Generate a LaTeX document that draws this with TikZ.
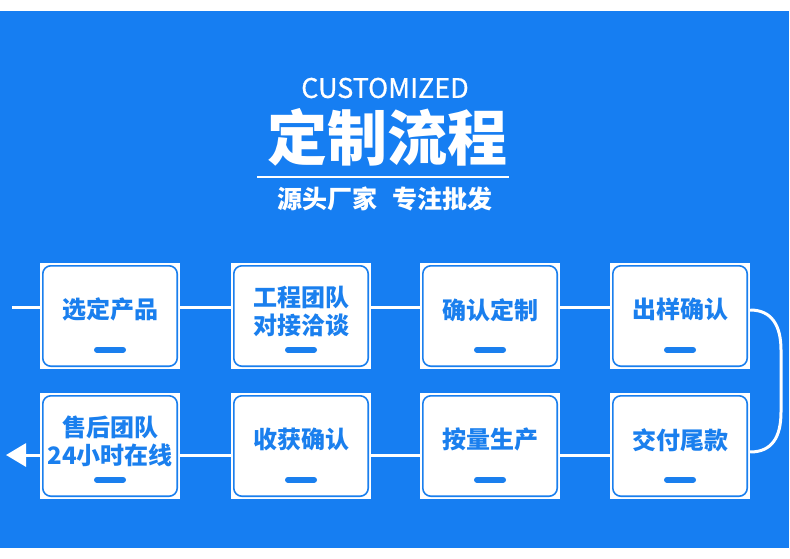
\documentclass[tikz,border=0pt]{standalone}
\usepackage{fontspec}
\newfontfamily\cjk{Noto Sans CJK SC}
\newfontfamily\cjkmed{Noto Sans CJK SC}[FakeBold=0.7]
\usetikzlibrary{arrows.meta,calc}
\definecolor{bg}{RGB}{22,126,242}
\definecolor{tb}{RGB}{26,127,238}
\begin{document}
\begin{tikzpicture}[x=1pt,y=1pt,
  box/.style={rectangle,fill=white,minimum width=140pt,minimum height=106pt,inner sep=0pt},
  inner/.style={draw=tb,line width=1.6pt,rounded corners=8pt},
  dashbar/.style={tb,line width=6pt,line cap=round},
  lbl/.style={text=tb,font=\cjk\bfseries\fontsize{24}{27.5}\selectfont,align=center,inner sep=0pt},
  conn/.style={white,line width=3pt},
  ttl/.style={text=white,inner sep=0pt}]
\useasboundingbox (0,0) rectangle (790,-559);
\fill[white] (0,0) rectangle (790,-559);
\fill[bg] (0,-11) rectangle (789,-548);
% titles
\node[ttl,font=\cjkmed\fontsize{27}{30}\selectfont] (t1) at (385,-88) {CUSTOMIZED};
\node[ttl,font=\cjk\bfseries\fontsize{60}{64}\selectfont] (t2) at (387,-137) {定制流程};
\coordinate (ul) at (257,-177);
\coordinate (ur) at (509,-177);
\draw[white,line width=2pt] (ul) -- (ur);
\node[ttl,font=\cjk\bfseries\fontsize{25}{28}\selectfont] (t3) at (385,-199) {源头厂家\hspace{15pt}专注批发};
% boxes
\foreach \n/\cx/\cy in {b1/110/316,b2/301/316,b3/490/316,b4/680/316,b5/680/446,b6/490/446,b7/301/446,b8/110/446}
  \node[box] (\n) at (\cx,-\cy) {};
\foreach \n in {b1,b2,b3,b4,b5,b6,b7,b8}{
  \draw[inner] ([shift={(3,-3)}]\n.north west) rectangle ([shift={(-3,3)}]\n.south east);
  \draw[dashbar] ([shift={(-13,-87)}]\n.north) -- ([shift={(13,-87)}]\n.north);
}
% labels
\node[lbl] (l1) at ([yshift=-47]b1.north) {选定产品};
\node[lbl] (l2) at ([yshift=-48.5]b2.north) {工程团队\\对接洽谈};
\node[lbl] (l3) at ([yshift=-47]b3.north) {确认定制};
\node[lbl] (l4) at ([yshift=-47]b4.north) {出样确认};
\node[lbl] (l5) at ([yshift=-47]b5.north) {交付尾款};
\node[lbl] (l6) at ([yshift=-47]b6.north) {按量生产};
\node[lbl] (l7) at ([yshift=-47]b7.north) {收获确认};
\node[lbl] (l8) at ([yshift=-48.5]b8.north) {售后团队\\24小时在线};
% connectors row 1
\coordinate (s) at (12,-307);
\draw[conn] (s) -- (s -| b1.west);
\draw[conn] (b1.east |- s) -- (b2.west |- s);
\draw[conn] (b2.east |- s) -- (b3.west |- s);
\draw[conn] (b3.east |- s) -- (b4.west |- s);
% turn
\draw[conn] (b4.east |- 0,-310) .. controls (772,-310) and (781,-326) .. (781,-350)
  -- (781,-412) .. controls (781,-437) and (772,-452) .. (b5.east |- 0,-452);
% connectors row 2
\coordinate (e) at (6,-455);
\draw[conn] (b5.west |- e) -- (b6.east |- e);
\draw[conn] (b6.west |- e) -- (b7.east |- e);
\draw[conn] (b7.west |- e) -- (b8.east |- e);
\draw[conn,-{Triangle[length=20pt,width=23pt]}] (b8.west |- e) -- (e);
\end{tikzpicture}
\end{document}
